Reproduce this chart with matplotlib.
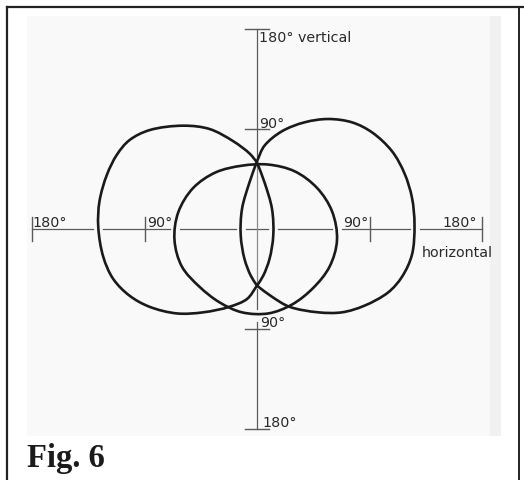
import numpy as np
import matplotlib.pyplot as plt
from matplotlib.path import Path
from matplotlib.patches import PathPatch, Rectangle

# Polar response curves (units: degrees on the cross axes)
left_lobe_x = [-127, -126, -120, -112, -102, -86, -59, -38, -19, -6, 0, 6, 12, 13, 10, 5,
               0, -8, -22, -43, -64, -86, -102, -115, -123]
left_lobe_y = [2, 25, 49, 67, 80, 89, 93, 90, 79, 68, 60, 42, 18, -6, -27, -42,
               -51, -63, -70, -75, -76, -70, -60, -45, -25]
left_corners = [10, 16]

right_lobe_x = [0, 6, 20, 38, 57, 76, 92, 108, 118, 124, 126, 124, 116, 105, 86, 68, 49,
                26, 12, 0, -5, -10, -13, -12, -6]
right_lobe_y = [61, 75, 88, 96, 99, 96, 87, 70, 50, 28, 4, -23, -43, -57, -69, -75, -75,
                -70, -61, -51, -42, -27, -6, 18, 42]
right_corners = [0, 19]

middle_x = [64, 60, 48, 30, 9, -12, -33, -51, -63, -66, -60, -46, -30, -12, 9, 28, 45, 58]
middle_y = [-10, 16, 37, 52, 58, 57, 51, 37, 15, -10, -34, -52, -66, -75, -76, -68, -53, -34]

tick_values = [-180, -90, 90, 180]
h_crossings = [-127, -66, -13, 13, 64, 126]


def closed_curve(xs, ys, corners=(), alpha=0.5):
    # centripetal Catmull-Rom through the read points, as cubic Bezier segments
    p = np.column_stack([xs, ys]).astype(float)
    n = len(p)
    verts = [p[0]]
    codes = [Path.MOVETO]
    for i in range(n):
        p0, p1, p2, p3 = p[i - 1], p[i], p[(i + 1) % n], p[(i + 2) % n]
        d1 = np.linalg.norm(p1 - p0) ** alpha
        d2 = np.linalg.norm(p2 - p1) ** alpha
        d3 = np.linalg.norm(p3 - p2) ** alpha
        if i in corners:
            c1 = p1 + (p2 - p1) / 3
        else:
            c1 = (d1**2 * p2 - d2**2 * p0 + (2 * d1**2 + 3 * d1 * d2 + d2**2) * p1) / (3 * d1 * (d1 + d2))
        if (i + 1) % n in corners:
            c2 = p2 - (p2 - p1) / 3
        else:
            c2 = (d3**2 * p1 - d2**2 * p3 + (2 * d3**2 + 3 * d3 * d2 + d2**2) * p2) / (3 * d3 * (d3 + d2))
        verts += [c1, c2, p2]
        codes += [Path.CURVE4] * 3
    return Path(verts, codes)


fig = plt.figure(figsize=(5.24, 4.81), dpi=100)
ax = fig.add_axes([0, 0, 1, 1])
sx, sy = 1.25, 1.111
ax.set_xlim(-257 / sx, (524 - 257) / sx)
ax.set_ylim((230 - 481) / sy, 230 / sy)
ax.axis('off')

# scanned page area and frame
ax.add_patch(Rectangle((-230 / sx, (230 - 437) / sy), 474 / sx, 420 / sy,
                       facecolor='#f9f9f9', edgecolor='none', zorder=0))
ax.add_patch(Rectangle((233 / sx, (230 - 437) / sy), 11 / sx, 420 / sy,
                       facecolor='#f1f1f1', edgecolor='none', zorder=0))
fig.add_artist(plt.Line2D([7 / 524, 7 / 524], [0, 1 - 8 / 481], color='#222222', lw=1.6))
fig.add_artist(plt.Line2D([7 / 524, 1], [1 - 8 / 481, 1 - 8 / 481], color='#222222', lw=1.6))
fig.add_artist(plt.Line2D([519 / 524, 519 / 524], [0, 1 - 8 / 481], color='#222222', lw=1.4))

axis_col = '#5a5a5a'
# horizontal axis, broken where the curves cross it
edges = [-180] + [v for c in h_crossings for v in (c - 4, c + 4)] + [180]
for a, b in zip(edges[0::2], edges[1::2]):
    ax.plot([a, b], [0, 0], color=axis_col, lw=0.9, zorder=1)
# vertical axis
for a, b, c in [(180, 63, axis_col), (57, -48, '#8a8a8a'), (-54, -72, axis_col), (-84, -180, axis_col)]:
    ax.plot([0, 0], [a, b], color=c, lw=0.9, zorder=1)
# tick bars
for t in tick_values:
    ax.plot([t, t], [-11, 11], color=axis_col, lw=1.0, zorder=1)
    ax.plot([-9.6, 9.6], [t, t], color=axis_col, lw=1.0, zorder=1)

for xs, ys, cn in [(left_lobe_x, left_lobe_y, left_corners),
                   (right_lobe_x, right_lobe_y, right_corners),
                   (middle_x, middle_y, [])]:
    ax.add_patch(PathPatch(closed_curve(xs, ys, cn), fill=False,
                           edgecolor='#1a1a1a', lw=1.9, zorder=3))

lab = dict(fontsize=10.3, color='#2a2a2a', va='baseline', family='DejaVu Sans')
ax.text(1.6, 169, '180° vertical', ha='left', **lab)
ax.text(1.6, 92, '90°', ha='left', **lab)
ax.text(-180, 2.7, '180°', ha='left', **lab)
ax.text(-88, 2.7, '90°', ha='left', **lab)
ax.text(88.8, 2.7, '90°', ha='right', **lab)
ax.text(176, 2.7, '180°', ha='right', **lab)
ax.text(132, -24.3, 'horizontal', ha='left', **lab)
ax.text(2.4, -87.3, '90°', ha='left', **lab)
ax.text(4, -177.3, '180°', ha='left', **lab)

fig.text(27 / 524, 1 - 467 / 481, 'Fig. 6', fontsize=23.5, fontweight='bold',
         family='Liberation Serif', color='#1a1a1a', va='baseline', ha='left')

fig.savefig('out.png', dpi=100, facecolor='white')
